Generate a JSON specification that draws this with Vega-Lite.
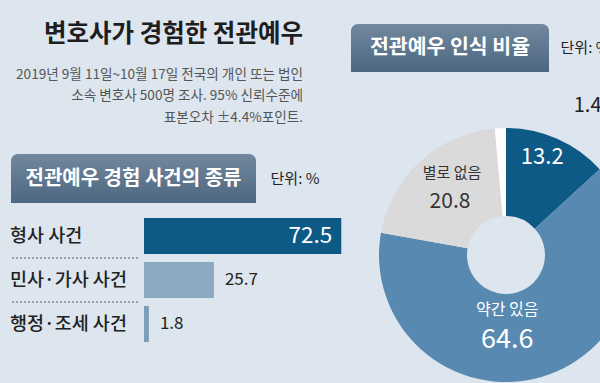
{
  "$schema": "https://vega.github.io/schema/vega-lite/v6.json",
  "background": "#dde6ee",
  "padding": {"left": 10, "top": 22, "right": 0, "bottom": 0},
  "config": {"view": {"stroke": null}, "font": "Noto Sans CJK KR"},
  "spacing": 7,
  "resolve": {"scale": {"color": "independent", "x": "independent", "y": "independent", "theta": "independent"}},
  "hconcat": [
    {
      "spacing": 0,
      "resolve": {"scale": {"color": "independent", "x": "independent", "y": "independent"}},
      "vconcat": [
        {
          "width": 292,
          "height": 93.5,
          "data": {"values": [
            {"line": 0, "text": "변호사가 경험한 전관예우"},
            {"line": 1, "text": "2019년 9월 11일~10월 17일 전국의 개인 또는 법인"},
            {"line": 2, "text": "소속 변호사 500명 조사. 95% 신뢰수준에"},
            {"line": 3, "text": "표본오차 ±4.4%포인트."}
          ]},
          "encoding": {
            "y": {"field": "line", "type": "quantitative", "scale": {"domain": [-1.35, 3], "reverse": true}, "axis": null},
            "x": {"datum": 1, "type": "quantitative", "scale": {"domain": [0, 1]}, "axis": null},
            "text": {"field": "text"}
          },
          "layer": [
            {
              "transform": [{"filter": "datum.line == 0"}],
              "mark": {"type": "text", "align": "right", "dy": -18, "fontSize": 24.5, "fontWeight": "bold", "color": "#1e1e1e"}
            },
            {
              "transform": [{"filter": "datum.line > 0"}],
              "mark": {"type": "text", "align": "right", "fontSize": 13.6, "color": "#555555"}
            }
          ]
        },
        {
          "height": 29,
          "width": 10,
          "data": {"values": [{}]},
          "mark": {"type": "text", "text": ""},
          "encoding": {}
        },
        {
          "hconcat": [
            {
              "width": 245,
              "height": 49,
              "data": {"values": [{}]},
              "layer": [
                {
                  "mark": {"type": "rect", "cornerRadiusTopLeft": 7, "cornerRadiusTopRight": 7, "fill": {"gradient": "linear", "x1": 0, "y1": 0, "x2": 0, "y2": 1, "stops": [{"offset": 0, "color": "#71889e"}, {"offset": 1, "color": "#4d6781"}]}},
                  "encoding": {}
                },
                {
                  "mark": {"type": "text", "text": "전관예우 경험 사건의 종류", "color": "#ffffff", "fontSize": 20, "fontWeight": "bold"},
                  "encoding": {}
                }
              ]
            },
            {
              "width": 52,
              "height": 49,
              "data": {"values": [{}]},
              "mark": {"type": "text", "text": "단위: %", "color": "#222222", "fontSize": 15},
              "encoding": {}
            }
          ],
          "spacing": 13
        },
        {
          "height": 10,
          "width": 10,
          "data": {"values": [{}]},
          "mark": {"type": "text", "text": ""},
          "encoding": {}
        },
        {
          "spacing": 5,
          "hconcat": [
            {
              "width": 127,
              "height": 132,
              "data": {"values": [
                {"type": "형사 사건", "value": 72.5},
                {"type": "민사·가사 사건", "value": 25.7},
                {"type": "행정·조세 사건", "value": 1.8}
              ]},
              "encoding": {
                "y": {"field": "type", "type": "nominal", "axis": null,
                  "scale": {"domain": ["형사 사건", "민사·가사 사건", "행정·조세 사건"], "paddingInner": 0, "paddingOuter": 0}}
              },
              "layer": [
                {
                  "mark": {"type": "text", "align": "left", "dx": -1, "fontSize": 18.5, "fontWeight": 500, "color": "#222222"},
                  "encoding": {
                    "x": {"datum": 0, "type": "quantitative", "scale": {"domain": [0, 1]}, "axis": null},
                    "text": {"field": "type"}
                  }
                },
                {
                  "transform": [{"filter": "datum.type != '형사 사건'"}],
                  "mark": {"type": "rule", "strokeDash": [2, 2], "color": "#555555", "strokeWidth": 1},
                  "encoding": {
                    "y": {"field": "type", "type": "nominal", "bandPosition": 0}
                  }
                }
              ]
            },
            {
              "width": 200,
              "height": 132,
              "data": {"values": [
                {"type": "형사 사건", "value": 72.5},
                {"type": "민사·가사 사건", "value": 25.7},
                {"type": "행정·조세 사건", "value": 1.8}
              ]},
              "encoding": {
                "y": {"field": "type", "type": "nominal", "axis": null,
                  "scale": {"domain": ["형사 사건", "민사·가사 사건", "행정·조세 사건"], "paddingInner": 0, "paddingOuter": 0}},
                "x": {"field": "value", "type": "quantitative", "scale": {"domain": [0, 73.5]}, "axis": null}
              },
              "layer": [
                {
                  "mark": {"type": "bar", "height": {"band": 0.82}},
                  "encoding": {
                    "color": {"field": "type", "type": "nominal", "legend": null,
                      "scale": {"domain": ["형사 사건", "민사·가사 사건", "행정·조세 사건"], "range": ["#0d5a86", "#8ba9bf", "#7f9fb8"]}}
                  }
                },
                {
                  "transform": [{"filter": "datum.value > 50"}],
                  "mark": {"type": "text", "align": "right", "dx": -9, "color": "#ffffff", "fontSize": 22.5},
                  "encoding": {"text": {"field": "value", "type": "quantitative", "format": ".1f"}}
                },
                {
                  "transform": [{"filter": "datum.value < 50"}],
                  "mark": {"type": "text", "align": "left", "dx": 11, "color": "#222222", "fontSize": 17},
                  "encoding": {"text": {"field": "value", "type": "quantitative", "format": ".1f"}}
                }
              ]
            }
          ]
        }
      ]
    },
    {
      "spacing": 24,
      "resolve": {"scale": {"color": "independent"}},
      "vconcat": [
        {
          "hconcat": [
            {
              "width": 198,
              "height": 48,
              "data": {"values": [{}]},
              "layer": [
                {
                  "mark": {"type": "rect", "cornerRadiusTopLeft": 7, "cornerRadiusTopRight": 7, "fill": {"gradient": "linear", "x1": 0, "y1": 0, "x2": 0, "y2": 1, "stops": [{"offset": 0, "color": "#71889e"}, {"offset": 1, "color": "#4d6781"}]}},
                  "encoding": {}
                },
                {
                  "mark": {"type": "text", "text": "전관예우 인식 비율", "color": "#ffffff", "fontSize": 20.5, "fontWeight": "bold"},
                  "encoding": {}
                }
              ]
            },
            {
              "width": 52,
              "height": 48,
              "data": {"values": [{}]},
              "mark": {"type": "text", "text": "단위: %", "color": "#222222", "fontSize": 15},
              "encoding": {}
            }
          ],
          "spacing": 10
        },
        {
          "width": 310,
          "height": 254,
          "data": {"values": [
            {"name": "매우 있음", "value": 13.2, "order": 1},
            {"name": "약간 있음", "value": 64.6, "order": 2},
            {"name": "별로 없음", "value": 20.8, "order": 3},
            {"name": "전혀 없음", "value": 1.4, "order": 4}
          ]},
          "encoding": {
            "theta": {"field": "value", "type": "quantitative", "stack": true},
            "order": {"field": "order", "type": "quantitative"}
          },
          "layer": [
            {
              "mark": {"type": "arc", "radius": 127, "radius2": 39},
              "encoding": {
                "color": {"field": "name", "type": "nominal", "legend": null,
                  "scale": {"domain": ["매우 있음", "약간 있음", "별로 없음", "전혀 없음"], "range": ["#0d5a86", "#5889b0", "#dadada", "#ffffff"]}}
              }
            },
            {
              "mark": {"type": "text", "radius": 80, "dx": 4, "dy": -25, "color": "#ffffff", "fontSize": 22},
              "encoding": {"text": {"field": "value", "type": "quantitative", "format": ".1f", "condition": {"test": "datum.order != 1", "value": ""}}}
            },
            {
              "mark": {"type": "text", "radius": 80, "dx": -21, "dy": -22, "color": "#ffffff", "fontSize": 16},
              "encoding": {"text": {"field": "name", "type": "nominal", "condition": {"test": "datum.order != 2", "value": ""}}}
            },
            {
              "mark": {"type": "text", "radius": 80, "dx": -21, "dy": 8, "color": "#ffffff", "fontSize": 27},
              "encoding": {"text": {"field": "value", "type": "quantitative", "format": ".1f", "condition": {"test": "datum.order != 2", "value": ""}}}
            },
            {
              "mark": {"type": "text", "radius": 80, "dx": 0, "dy": -23, "color": "#333333", "fontSize": 15},
              "encoding": {"text": {"field": "name", "type": "nominal", "condition": {"test": "datum.order != 3", "value": ""}}}
            },
            {
              "mark": {"type": "text", "radius": 80, "dx": -2, "dy": 6, "color": "#333333", "fontSize": 21},
              "encoding": {"text": {"field": "value", "type": "quantitative", "format": ".1f", "condition": {"test": "datum.order != 3", "value": ""}}}
            },
            {
              "mark": {"type": "text", "radius": 145, "dx": 88, "dy": -4, "color": "#222222", "fontSize": 20},
              "encoding": {"text": {"field": "value", "type": "quantitative", "format": ".1f", "condition": {"test": "datum.order != 4", "value": ""}}}
            }
          ]
        }
      ]
    }
  ]
}
